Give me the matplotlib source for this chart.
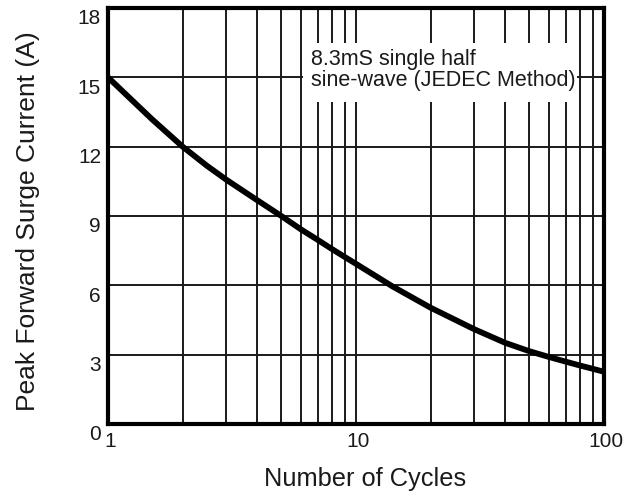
import matplotlib
matplotlib.use('Agg')
import matplotlib.pyplot as plt
import matplotlib.ticker as ticker
from matplotlib.patches import Rectangle
from matplotlib.transforms import ScaledTranslation

# Surge current vs number of cycles
cycles = [1, 1.5, 2, 2.5, 3, 4, 5, 6, 7, 8, 9, 10, 14, 20, 30, 40, 50,
          60, 70, 80, 90, 100]
current = [15.0, 13.2, 12.0, 11.18, 10.57, 9.68, 9.0, 8.42, 7.97, 7.57, 7.23,
           6.93, 5.96, 5.03, 4.1, 3.51, 3.15, 2.9, 2.7, 2.53, 2.39, 2.26]

y_ticks = [0, 3, 6, 9, 12, 15, 18]
x_ticks = [1, 10, 100]
x_tick_labels = ['1', '10', '100']
note = '8.3mS single half\nsine-wave (JEDEC Method)'

plt.rcParams['font.family'] = ['Liberation Sans', 'DejaVu Sans']

fig = plt.figure(figsize=(6.43, 4.99), dpi=100)
ax = fig.add_axes([108 / 643, 1 - 424 / 499, 496 / 643, 416 / 499])

ax.set_xscale('log')
ax.set_xlim(1, 100)
ax.set_ylim(0, 18)

# grid: every 3 A, and every integer cycle step on the log axis
ax.set_yticks(y_ticks)
ax.set_xticks(x_ticks)
ax.set_xticklabels(x_tick_labels)
ax.xaxis.set_minor_locator(ticker.LogLocator(base=10, subs=range(2, 10)))
ax.xaxis.set_minor_formatter(ticker.NullFormatter())
ax.grid(True, which='both', axis='x', color='#1a1a1a', linewidth=1.4)
ax.grid(True, which='major', axis='y', color='#1a1a1a', linewidth=1.4)

ax.tick_params(which='both', length=0, labelsize=15, colors='#1a1a1a')
ax.tick_params(axis='y', pad=5)
ax.tick_params(axis='x', pad=6)

for s in ax.spines.values():
    s.set_linewidth(3)
    s.set_color('black')

# y labels sit a little below their grid line, x labels a little right
dy = ScaledTranslation(0, -0.09, fig.dpi_scale_trans)
for lab in ax.get_yticklabels():
    lab.set_transform(lab.get_transform() + dy)
dx = ScaledTranslation(0.02, 0, fig.dpi_scale_trans)
for lab in ax.get_xticklabels():
    lab.set_transform(lab.get_transform() + dx)

ax.plot(cycles, current, color='black', linewidth=4.2, zorder=3,
        solid_joinstyle='round', solid_capstyle='butt', clip_on=False)

# white box behind the note hides the grid lines
ax.add_patch(Rectangle((0.393, 0.774), 0.553, 0.142, transform=ax.transAxes,
                       facecolor='white', edgecolor='none', zorder=2))
ax.text(0.410, 0.902, note, transform=ax.transAxes, ha='left', va='top',
        fontsize=15.5, linespacing=1.0, color='#1a1a1a', zorder=4)

ax.set_xlabel('Number of Cycles', fontsize=18.3, color='#1a1a1a')
ax.xaxis.set_label_coords(0.518, -0.103)
ax.set_ylabel('Peak Forward Surge Current (A)', fontsize=19, color='#1a1a1a')
ax.yaxis.label.set_va('center')
ax.yaxis.set_label_coords(-0.161, 0.488)

fig.savefig('out.png', dpi=100)
